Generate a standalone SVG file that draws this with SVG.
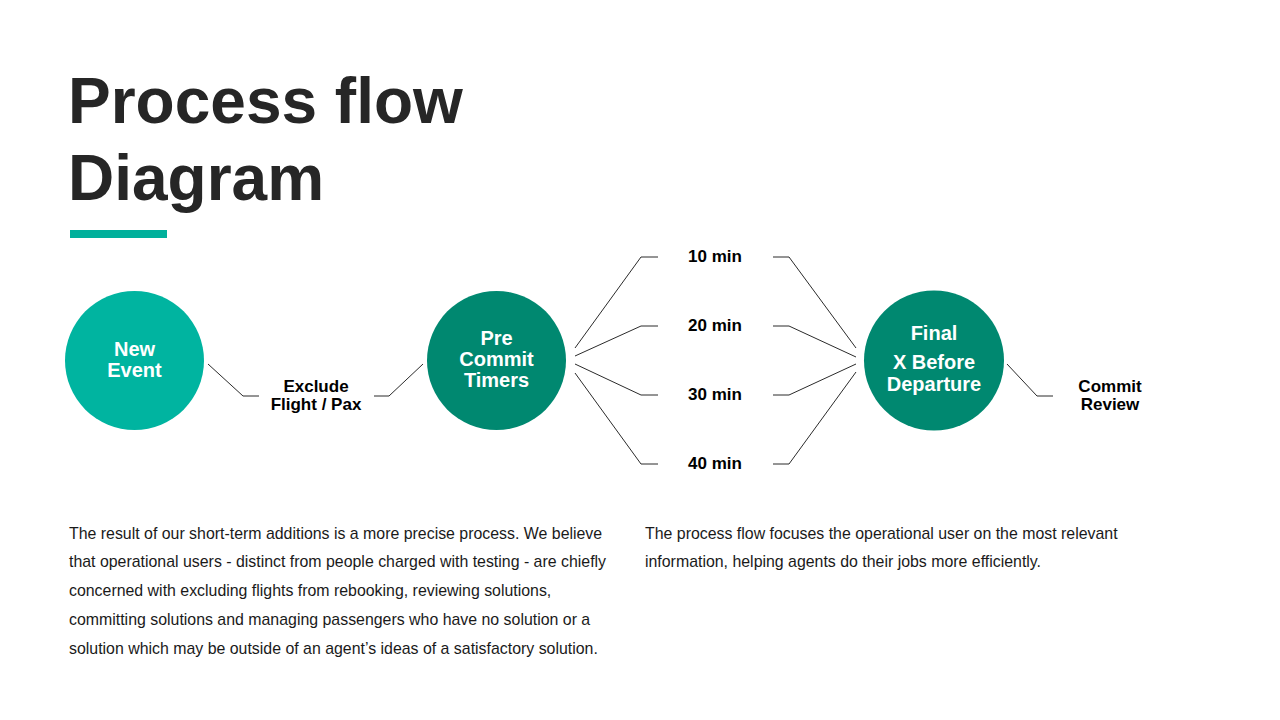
<svg xmlns="http://www.w3.org/2000/svg" width="1280" height="720" viewBox="0 0 1280 720">
<style>
.title{font-family:"Liberation Sans",Arial,sans-serif;font-weight:bold;font-size:64px;fill:#262626}
.nt{font-family:"Liberation Sans",Arial,sans-serif;font-weight:bold;font-size:20px;fill:#fff;text-anchor:middle}
.lb{font-family:"Liberation Sans",Arial,sans-serif;font-weight:bold;font-size:17px;fill:#000;text-anchor:middle}
.body{font-family:"Liberation Sans",Arial,sans-serif;font-size:15.9px;fill:#1a1a1a}
.c{fill:none;stroke:#2b2b2b;stroke-width:1}
</style>
<rect width="1280" height="720" fill="#fff"/>
<text class="title" x="68" y="123">Process flow</text>
<text class="title" x="68" y="200">Diagram</text>
<rect x="70" y="230" width="97" height="8" fill="#00B09B"/>
<g id="connectors">
<polyline class="c" points="208,364 243,396 259,396"/>
<polyline class="c" points="374,396 389,396 423,364"/>
<polyline class="c" points="575,348 641,257 658,257"/>
<polyline class="c" points="575,356 641,326 658,326"/>
<polyline class="c" points="575,364 641,395 658,395"/>
<polyline class="c" points="575,373 641,464 658,464"/>
<polyline class="c" points="773,257 789,257 856,348"/>
<polyline class="c" points="773,326 789,326 856,357"/>
<polyline class="c" points="773,395 789,395 856,364"/>
<polyline class="c" points="773,464 789,464 856,372"/>
<polyline class="c" points="1007,364 1037,396 1053,396"/>
</g>
<g id="new-event">
<circle cx="134.5" cy="360.5" r="69.5" fill="#00B4A0"/>
<text class="nt" x="134.5" y="356">New</text>
<text class="nt" x="134.5" y="377">Event</text>
</g>
<g id="exclude">
<text class="lb" x="316" y="392">Exclude</text>
<text class="lb" x="316" y="410">Flight / Pax</text>
</g>
<g id="pre-commit">
<circle cx="496.5" cy="360.5" r="69.5" fill="#008870"/>
<text class="nt" x="496.5" y="345">Pre</text>
<text class="nt" x="496.5" y="366">Commit</text>
<text class="nt" x="496.5" y="387">Timers</text>
</g>
<g id="t10"><text class="lb" x="715" y="262">10 min</text></g>
<g id="t20"><text class="lb" x="715" y="331">20 min</text></g>
<g id="t30"><text class="lb" x="715" y="400">30 min</text></g>
<g id="t40"><text class="lb" x="715" y="469">40 min</text></g>
<g id="final">
<circle cx="934" cy="360.5" r="70" fill="#008870"/>
<text class="nt" x="934" y="340">Final</text>
<text class="nt" x="934" y="369">X Before</text>
<text class="nt" x="934" y="391">Departure</text>
</g>
<g id="commit-review">
<text class="lb" x="1110" y="392">Commit</text>
<text class="lb" x="1110" y="410">Review</text>
</g>
<text class="body" x="69" y="539">The result of our short-term additions is a more precise process. We believe</text>
<text class="body" x="69" y="567">that operational users - distinct from people charged with testing - are chiefly</text>
<text class="body" x="69" y="596">concerned with excluding flights from rebooking, reviewing solutions,</text>
<text class="body" x="69" y="625">committing solutions and managing passengers who have no solution or a</text>
<text class="body" x="69" y="654">solution which may be outside of an agent’s ideas of a satisfactory solution.</text>
<text class="body" x="645" y="539">The process flow focuses the operational user on the most relevant</text>
<text class="body" x="645" y="567">information, helping agents do their jobs more efficiently.</text>
</svg>
